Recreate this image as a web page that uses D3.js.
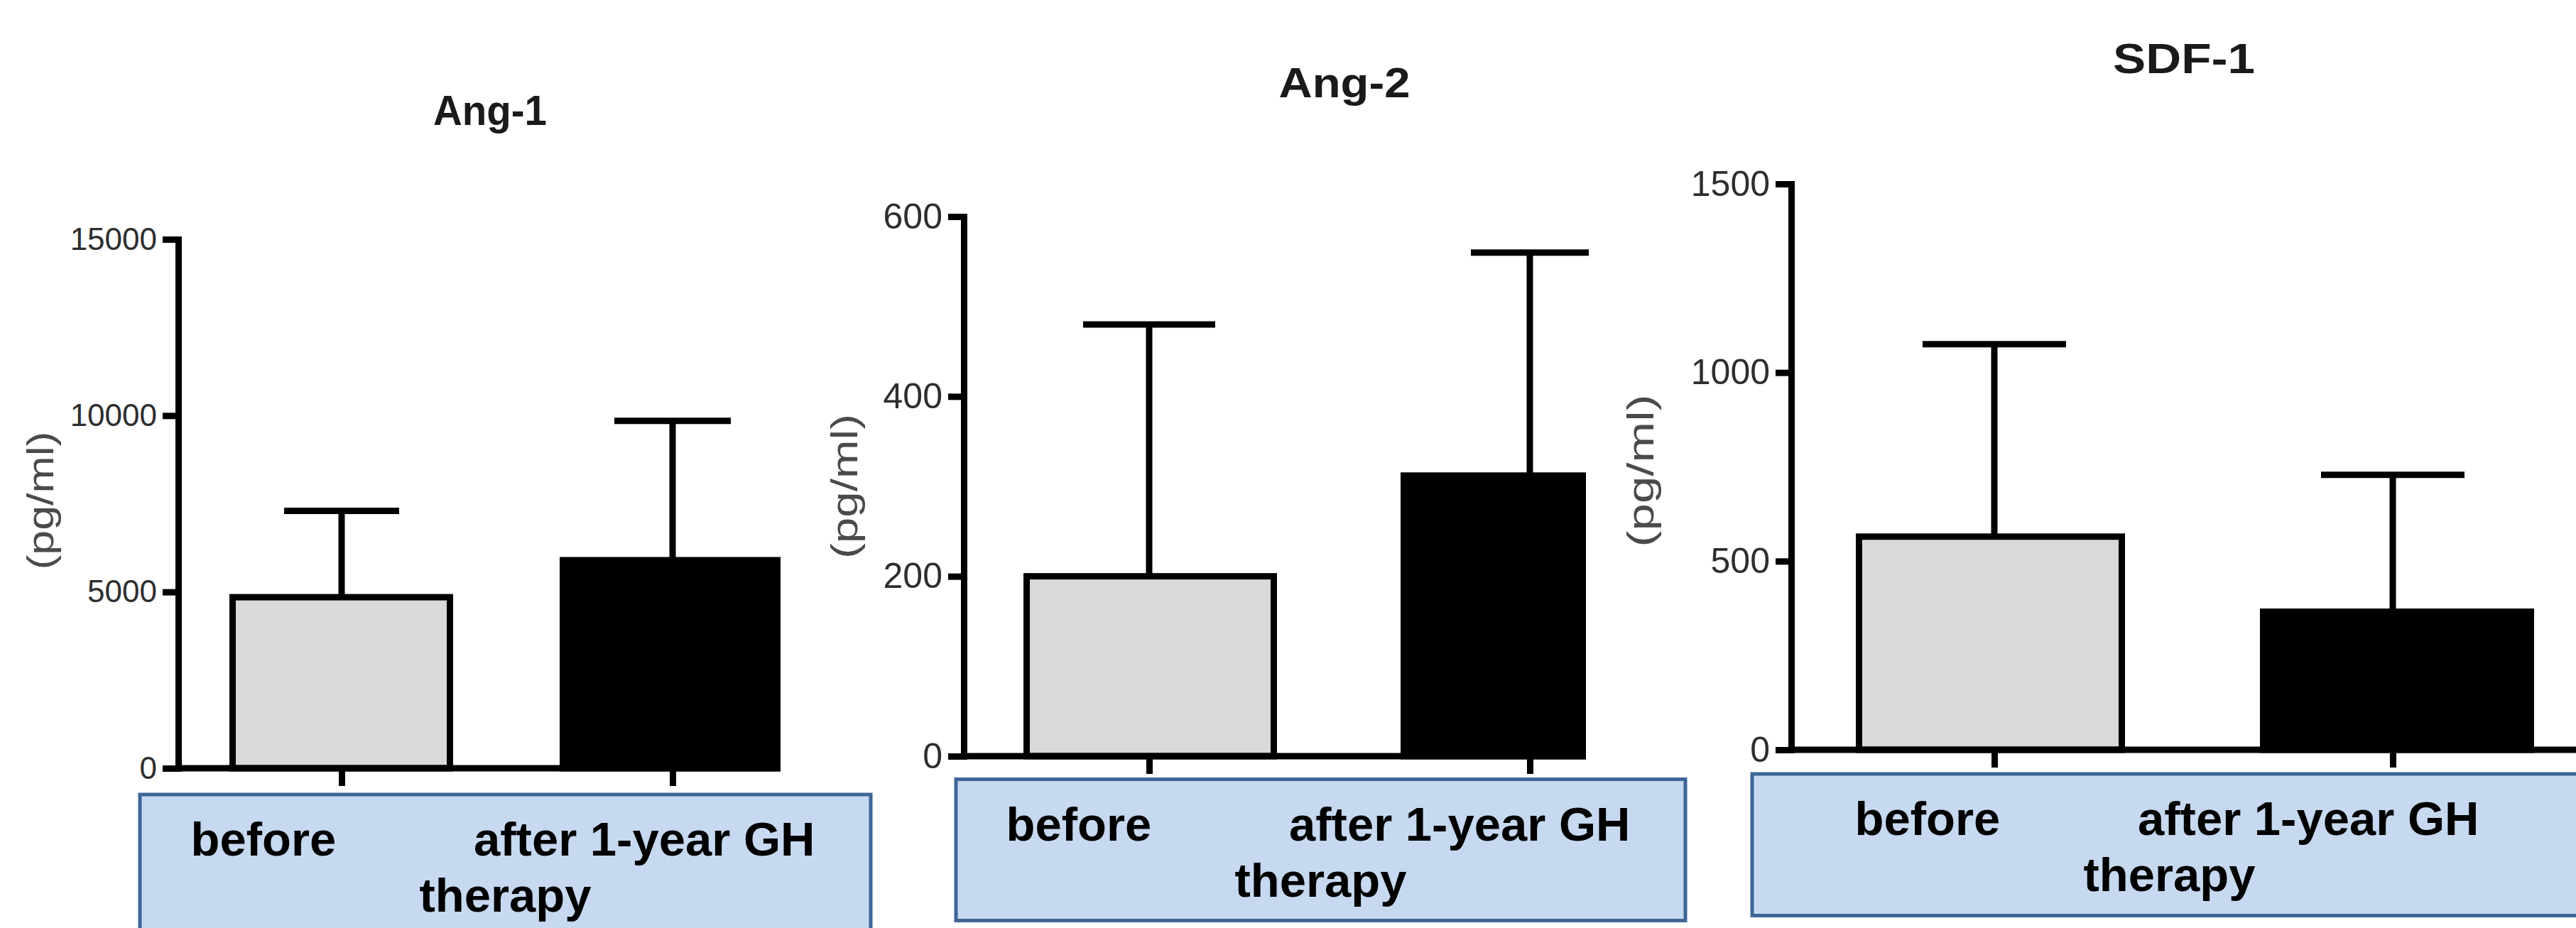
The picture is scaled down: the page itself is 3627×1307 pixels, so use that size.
<!DOCTYPE html>
<html><head><meta charset="utf-8">
<script src="https://cdn.jsdelivr.net/npm/d3@7"></script>
<style>html,body{margin:0;padding:0;background:#fff;} svg{display:block;}</style>
</head><body>
<svg id="chart" width="3627" height="1307"></svg>
<script>
// ---- data ----
const categories = ["before", "after 1-year GH therapy"];
const panelTitles = ["Ang-1", "Ang-2", "SDF-1"];
const yAxisLabel = "(pg/ml)";
const ang1Means = [4850, 5900];
const ang1Upper = [7300, 9850];   // mean + SD
const ang2Means = [200, 312];
const ang2Upper = [480, 560];
const sdf1Means = [565, 366];
const sdf1Upper = [1075, 729];
const ang1Ticks = [0, 5000, 10000, 15000];
const ang2Ticks = [0, 200, 400, 600];
const sdf1Ticks = [0, 500, 1000, 1500];
const boxLine1 = ["before", "after 1-year GH"];
const boxLine2 = "therapy";
const barFills = ["#d8d9db", "#000000"];

// ---- layout (positions / styles only) ----
const layout = [
  {axisX:251, yBottom:1082, yTop:337, yMax:15000, xEnd:1099, centers:[481,947],
   bar:[[-158,157],[-159,152]], cap:[81,82], tickFont:44,
   title:{x:690,y:176,len:160}, ylab:{x:57,y:705,len:195},
   box:{x:197,y:1119,w:1029,h:240}, textCx:711.5},
  {axisX:1357, yBottom:1065, yTop:305, yMax:600, xEnd:2233, centers:[1618,2154],
   bar:[[-177,180],[-182,79]], cap:[93,83], tickFont:50,
   title:{x:1893,y:137,len:185}, ylab:{x:1189,y:685,len:204},
   box:{x:1346,y:1097.5,w:1027,h:199}, textCx:1859.5},
  {axisX:2522, yBottom:1056, yTop:259, yMax:1500, xEnd:3627, centers:[2808,3369],
   bar:[[-195,184],[-187,199]], cap:[101,101], tickFont:50,
   title:{x:3075,y:103,len:200}, ylab:{x:2310,y:663,len:215},
   box:{x:2467,y:1090,w:1175,h:199.5}, textCx:3054.5}
];

const panels = [
  {means: ang1Means, upper: ang1Upper, ticks: ang1Ticks},
  {means: ang2Means, upper: ang2Upper, ticks: ang2Ticks},
  {means: sdf1Means, upper: sdf1Upper, ticks: sdf1Ticks}
];

const LW = 9;
const FONT = "'Liberation Sans', Arial, Helvetica, sans-serif";
const svg = d3.select("#chart");
svg.append("rect").attr("width",3627).attr("height",1307).attr("fill","#fff");

panels.forEach((p, i) => {
  const L = layout[i];
  const g = svg.append("g");
  const y = d3.scaleLinear().domain([0, L.yMax]).range([L.yBottom, L.yTop]);
  const x = d3.scalePoint().domain(categories).range(L.centers);

  // title
  g.append("text")
    .attr("x", L.title.x).attr("y", L.title.y)
    .attr("text-anchor","middle")
    .attr("font-family", FONT).attr("font-weight","bold").attr("font-size", 60)
    .attr("textLength", L.title.len).attr("lengthAdjust","spacingAndGlyphs")
    .attr("fill","#1a1a1a")
    .text(panelTitles[i]);

  // y label
  g.append("text")
    .attr("transform", `translate(${L.ylab.x},${L.ylab.y}) rotate(-90)`)
    .attr("text-anchor","middle").attr("dominant-baseline","central")
    .attr("font-family", FONT).attr("font-size", 52)
    .attr("textLength", L.ylab.len).attr("lengthAdjust","spacingAndGlyphs")
    .attr("fill","#4a4a4a")
    .text(yAxisLabel);

  // bars
  g.selectAll("rect.bar").data(categories).join("rect")
    .attr("class","bar")
    .attr("x", (c,j) => x(c) + L.bar[j][0] + LW/2)
    .attr("width", (c,j) => L.bar[j][1] - L.bar[j][0] - LW)
    .attr("y", (c,j) => y(p.means[j]))
    .attr("height", (c,j) => y(0) - y(p.means[j]))
    .attr("fill", (c,j) => barFills[j])
    .attr("stroke","#000").attr("stroke-width", LW);

  // error bars
  g.selectAll("line.err").data(categories).join("line")
    .attr("class","err")
    .attr("x1", c => x(c)).attr("x2", c => x(c))
    .attr("y1", (c,j) => y(p.means[j])).attr("y2", (c,j) => y(p.upper[j]))
    .attr("stroke","#000").attr("stroke-width", LW);
  g.selectAll("line.cap").data(categories).join("line")
    .attr("class","cap")
    .attr("x1", (c,j) => x(c) - L.cap[j]).attr("x2", (c,j) => x(c) + L.cap[j])
    .attr("y1", (c,j) => y(p.upper[j])).attr("y2", (c,j) => y(p.upper[j]))
    .attr("stroke","#000").attr("stroke-width", LW);

  // y axis
  const ya = g.append("g").attr("transform", `translate(${L.axisX},0)`)
    .call(d3.axisLeft(y).tickValues(p.ticks).tickFormat(d3.format("d"))
      .tickSize(22).tickSizeOuter(0).tickPadding(8));
  ya.attr("font-family", FONT).attr("font-size", L.tickFont);
  ya.select(".domain").attr("stroke","#000").attr("stroke-width", LW).attr("stroke-linecap","square");
  ya.selectAll(".tick line").attr("stroke","#000").attr("stroke-width", LW);
  ya.selectAll(".tick text").attr("fill","#2e2e2e");

  // x axis line
  g.append("line")
    .attr("x1", L.axisX).attr("x2", L.xEnd)
    .attr("y1", y(0)).attr("y2", y(0))
    .attr("stroke","#000").attr("stroke-width", LW);
  // x ticks
  const xa = g.append("g").attr("transform", `translate(0,${y(0)})`)
    .call(d3.axisBottom(x).tickSize(25).tickFormat(""));
  xa.select(".domain").remove();
  xa.selectAll(".tick line").attr("stroke","#000").attr("stroke-width", LW);

  // category label box
  g.append("rect")
    .attr("x", L.box.x).attr("y", L.box.y).attr("width", L.box.w).attr("height", L.box.h)
    .attr("fill","#c6d9f0").attr("stroke","#3e6596").attr("stroke-width", 5);
  const tg = g.append("g").attr("font-family", FONT).attr("font-weight","bold")
    .attr("font-size", 67).attr("fill","#000");
  tg.append("text").attr("x", L.textCx - 443).attr("y", L.box.y + 86).text(boxLine1[0]);
  tg.append("text").attr("x", L.textCx - 44.5).attr("y", L.box.y + 86).text(boxLine1[1]);
  tg.append("text").attr("x", L.textCx).attr("y", L.box.y + 165)
    .attr("text-anchor","middle").text(boxLine2);
});
</script>
</body></html>
